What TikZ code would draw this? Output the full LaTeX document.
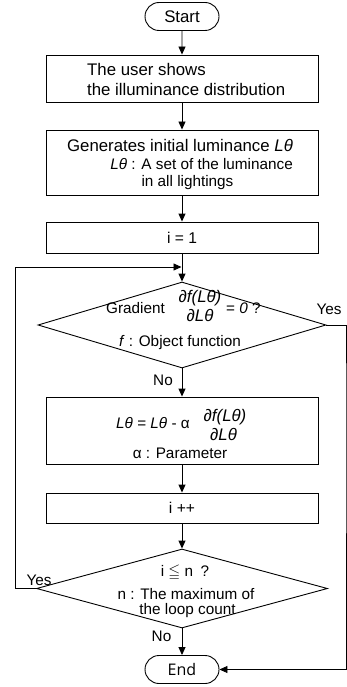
\documentclass[tikz,border=0pt]{standalone}
\usepackage{amssymb}
\usepackage{fontspec}
\setmainfont{Liberation Sans}
\newfontfamily\endfont{Open Sans}
\usetikzlibrary{arrows.meta,positioning,shapes.geometric,shapes.misc}
\tikzset{
  >={Triangle[length=8pt,width=7pt]},
  % flödesschema
  term/.style={rounded rectangle,draw,line width=0.9pt,inner sep=0pt,
               minimum width=74pt,minimum height=28pt,font=\fontsize{16.8}{19}\selectfont},
  proc/.style={rectangle,draw,line width=0.9pt,inner sep=0pt,minimum width=272pt},
  dec/.style={diamond,draw,line width=0.9pt,inner sep=0pt},
  big/.style={inner sep=0pt,font=\fontsize{16.8}{19}\selectfont},
  txt/.style={inner sep=0pt,font=\fontsize{15.3}{17}\selectfont},
  frac/.style={inner sep=0pt,font=\fontsize{16.8}{19}\selectfont\itshape},
  flow/.style={->,draw=black,line width=0.9pt},
}

\begin{document}
\begin{tikzpicture}[x=1pt,y=-1pt]
\useasboundingbox (0,0) rectangle (347,687);
  % boxes
  \node[term] (start) at (182,16.5) {Start};
  \node[proc,minimum height=47pt] (show) at (182,78.5) {};
  \node[proc,minimum height=65pt] (gen) at (182,162.5) {};
  \node[proc,minimum height=31pt,font=\fontsize{15.6}{17}\selectfont] (init) at (182,237.5) {i = 1};
  \node[dec,minimum width=288pt,minimum height=86pt] (grad) at (182,325) {};
  \node[proc,minimum height=67pt] (upd) at (182,430.5) {};
  \node[proc,minimum height=30pt,font=\fontsize{15.6}{17}\selectfont] (inc) at (182,508) {i ++};
  \node[dec,minimum width=291pt,minimum height=79pt] (chk) at (182,588.5) {};
  \node[term,font=\endfont\fontsize{16}{19}\selectfont] (end) at (182,669.5) {End};
  % texts
  \node[big,anchor=base west] (show1) at (87,76) {The user shows};
  \node[big,anchor=base west] (show2) at (87,96) {the illuminance distribution};
  \node[big,anchor=base] (gen1) at (180,152) {Generates initial luminance \textit{Lθ}};
  \node[txt,anchor=base east] (gen2) at (293,170) {\textit{Lθ} : A set of the luminance};
  \node[txt,anchor=base] (gen3) at (187.5,186) {in all lightings};
  \node[txt,anchor=base west] (grad1) at (106,313) {Gradient};
  \node[frac,anchor=base] (gradnum) at (200,302) {∂f(Lθ)};
  \node[frac,anchor=base] (gradden) at (200,321) {∂Lθ};
  \node[txt,anchor=base west] (grad2) at (226,313) {= \textit{0} ?};
  \node[txt,anchor=base] (grad3) at (180,346) {\textit{f} : Object function};
  \node[txt,anchor=base west] (upd1) at (116,428) {\textit{Lθ} = \textit{Lθ} - α};
  \node[frac,anchor=base] (updnum) at (225,421) {∂f(Lθ)};
  \node[frac,anchor=base] (updden) at (223.5,440) {∂Lθ};
  \node[txt,anchor=base] (upd2) at (180,458) {α : Parameter};
  \node[txt,anchor=base] (chk1) at (185,576) {i $\leqq$ n\enspace ?};
  \node[txt,anchor=base] (chk2) at (186,599) {n : The maximum of};
  \node[txt,anchor=base] (chk3) at (187.5,614) {the loop count};
  \node[txt,anchor=base] (yes1) at (329,314) {Yes};
  \node[txt,anchor=base] (no1) at (163,385) {No};
  \node[txt,anchor=base] (yes2) at (39,585) {Yes};
  \node[txt,anchor=base] (no2) at (161.5,641) {No};
  % connectors
  \coordinate (loopin) at (181.5,267);
  \coordinate (loopleft) at (15,267);
  \coordinate (yesright) at (346,400);
  \draw[flow] (start) -- (show);
  \draw[flow] (show) -- (gen);
  \draw[flow] (gen) -- (init);
  \draw[flow] (init) -- (grad);
  \draw[flow] (grad) -- (upd);
  \draw[flow] (upd) -- (inc);
  \draw[flow] (inc) -- (chk);
  \draw[flow] (chk) -- (end);
  \draw[flow] (chk.west) -| (loopleft) -- (loopin);
  \draw[flow] (grad.east) -| (yesright) |- (end.east);
\end{tikzpicture}
\end{document}
